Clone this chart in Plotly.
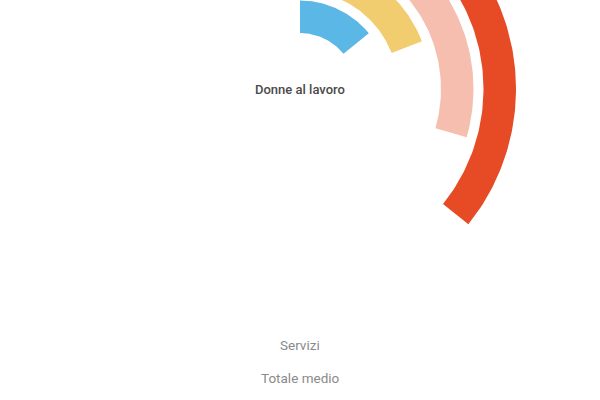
import numpy as np
import plotly.graph_objects as go

# quattro anelli, dall'interno verso l'esterno (valori in % , 100 = 270 gradi)
valori = [18.9, 25.4, 39.3, 47.7]
colori = ["#5bb7e5", "#f1cd6f", "#f5beaf", "#e64b25"]
titolo = "Donne al lavoro"
etichette = ["Servizi", "Totale medio"]

GRADI_PIENO = 270.0
R0 = 56       # raggio interno del primo anello
SPESSORE = 32.5
PASSO = 42.5

fig = go.Figure()

for i, v in enumerate(valori):
    ang = np.radians(np.linspace(0, v / 100 * GRADI_PIENO, 120))
    r_in = R0 + i * PASSO
    r_out = r_in + SPESSORE
    xs = np.concatenate([r_out * np.sin(ang), r_in * np.sin(ang[::-1])])
    ys = np.concatenate([r_out * np.cos(ang), r_in * np.cos(ang[::-1])])
    fig.add_trace(go.Scatter(x=xs, y=ys, fill="toself", mode="lines",
                             line=dict(width=0, color=colori[i]),
                             fillcolor=colori[i], hoverinfo="skip",
                             showlegend=False))

fig.add_annotation(x=0, y=0, text=titolo, showarrow=False,
                   font=dict(family="Roboto", size=13, color="#4a4a4a", weight=500))
fig.add_annotation(x=0, y=-256, text=etichette[0], showarrow=False,
                   font=dict(family="Roboto", size=13.5, color="#8a8a8a"))
fig.add_annotation(x=0, y=-289, text=etichette[1], showarrow=False,
                   font=dict(family="Roboto", size=13.5, color="#8a8a8a"))

fig.update_layout(width=600, height=400,
                  margin=dict(l=0, r=0, t=0, b=0),
                  paper_bgcolor="white", plot_bgcolor="white",
                  xaxis=dict(range=[-300, 300], visible=False, fixedrange=True),
                  yaxis=dict(range=[-311, 89], visible=False, fixedrange=True))

# niente margine del body, cosi' il grafico parte dall'angolo in alto
fig.write_html("out.html", config={"displayModeBar": False},
               post_script="document.body.style.margin='0';document.body.style.overflow='hidden';")
